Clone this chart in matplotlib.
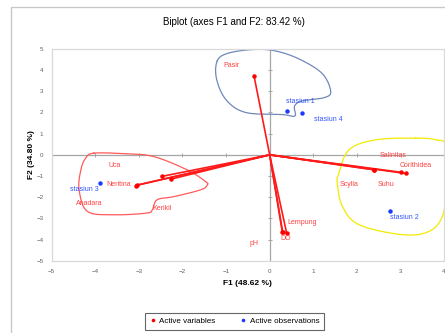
import matplotlib
matplotlib.use("Agg")
import matplotlib.pyplot as plt
from matplotlib.patches import Rectangle
from matplotlib.lines import Line2D
import numpy as np

plt.rcParams['font.family'] = ['Liberation Sans', 'DejaVu Sans']

# active variables (red)
var_names = ["Pasir", "Salinitas", "Scylla", "Suhu", "Corithidea",
             "Uca", "Neritina", "Kerikil", "Anadara", "Lempung", "DO", "pH"]
var_x = [-0.36, 2.40, 2.40, 3.00, 3.12, -2.48, -3.07, -2.27, -3.05, 0.39, 0.29, 0.30]
var_y = [3.74, -0.70, -0.71, -0.82, -0.88, -1.02, -1.45, -1.15, -1.43, -3.70, -3.65, -3.66]
var_lab_x = [-0.87, 2.84, 1.83, 2.67, 3.35, -3.55, -3.46, -2.46, -4.13, 0.75, 0.37, -0.36]
var_lab_y = [4.20, -0.03, -1.41, -1.41, -0.50, -0.50, -1.38, -2.51, -2.31, -3.19, -3.96, -4.17]

# active observations (blue)
obs_names = ["stasiun 1", "stasiun 2", "stasiun 3", "stasiun 4"]
obs_x = [0.39, 2.76, -3.88, 0.75]
obs_y = [2.08, -2.63, -1.31, 1.97]
obs_lab_x = [0.70, 3.08, -4.26, 1.35]
obs_lab_y = [2.52, -2.96, -1.62, 1.65]

# hand drawn groupings
blue_x = [-1.20, -0.95, -0.40, 0.10, 0.65, 1.20, 1.40, 1.25, 0.75, 0.57, 0.58, 0.30, -0.55, -1.00, -1.22]
blue_y = [4.45, 4.80, 4.97, 4.92, 4.55, 3.85, 3.00, 2.70, 2.55, 2.30, 1.84, 1.90, 2.00, 2.60, 3.60]
red_x = [-4.03, -3.30, -2.66, -1.89, -1.47, -1.43, -1.58, -2.19, -2.58, -2.69, -2.82, -3.57, -4.18, -4.37, -4.33, -4.22]
red_y = [0.08, 0.05, -0.08, -0.71, -1.26, -1.42, -1.65, -1.97, -2.12, -2.59, -2.75, -2.83, -2.67, -1.65, -0.71, -0.16]
yel_x = [3.35, 2.43, 1.82, 1.59, 1.55, 1.67, 2.05, 3.04, 3.65, 3.96, 4.04, 4.04, 3.81]
yel_y = [0.79, 0.71, 0.24, -0.86, -1.34, -2.44, -3.30, -3.77, -3.62, -2.91, -1.65, 0.39, 0.71]


def smooth_closed(xs, ys, n=20):
    # periodic catmull-rom
    p = np.column_stack([xs, ys])
    k = len(p)
    out = []
    for i in range(k):
        p0, p1, p2, p3 = p[i - 1], p[i], p[(i + 1) % k], p[(i + 2) % k]
        for t in np.linspace(0, 1, n, endpoint=False):
            t2, t3 = t * t, t * t * t
            out.append(0.5 * (2 * p1 + (-p0 + p2) * t + (2 * p0 - 5 * p1 + 4 * p2 - p3) * t2
                              + (-p0 + 3 * p1 - 3 * p2 + p3) * t3))
    out.append(out[0])
    out = np.array(out)
    return out[:, 0], out[:, 1]


fig = plt.figure(figsize=(4.45, 3.33), dpi=100)
ax = fig.add_axes([0.116, 0.217, 0.882, 0.636])

# outer frame
fig.patches.append(Rectangle((11 / 445, -0.1), 1.2, 1.1 - 7 / 333, transform=fig.transFigure,
                             fill=False, edgecolor='#c8c8c8', linewidth=1.0))

ax.set_xlim(-5, 4)
ax.set_ylim(-5, 5)
ax.set_xticks(np.arange(-5, 5, 1))
ax.set_yticks(np.arange(-5, 6, 1))
ax.tick_params(length=0, labelsize=4.5, labelcolor='#606060', pad=6)
for s in ax.spines.values():
    s.set_color('#d9d9d9')
    s.set_linewidth(0.9)

ax.axhline(0, color='#a6a6a6', lw=0.9, zorder=1)
ax.axvline(0, color='#a6a6a6', lw=0.9, zorder=1)
ax.plot(np.zeros(len(ax.get_yticks())), ax.get_yticks(), ls='none', marker='_',
        ms=3, mew=0.7, color='#a6a6a6', zorder=1)
ax.plot(ax.get_xticks(), np.zeros(len(ax.get_xticks())), ls='none', marker='|',
        ms=3, mew=0.7, color='#a6a6a6', zorder=1)

# vectors
for i in range(len(var_names)):
    ax.plot([0, var_x[i]], [0, var_y[i]], color='#ff1a1a', lw=1.2, zorder=3)
ax.plot(var_x, var_y, ls='none', marker='o', ms=2.2, color='#ff0000', zorder=4)
for i in range(len(var_names)):
    ax.text(var_lab_x[i], var_lab_y[i], var_names[i], color='#ff4040', fontsize=5,
            ha='center', va='center', zorder=5)

ax.plot(obs_x, obs_y, ls='none', marker='o', ms=2.2, color='#1a3cff', zorder=4)
for i in range(len(obs_names)):
    ax.text(obs_lab_x[i], obs_lab_y[i], obs_names[i], color='#3355ff', fontsize=5,
            ha='center', va='center', zorder=5)

bx, by = smooth_closed(blue_x, blue_y)
ax.plot(bx, by, color='#7088b8', lw=0.9, zorder=2)
rx, ry = smooth_closed(red_x, red_y)
ax.plot(rx, ry, color='#ff5a5a', lw=0.9, zorder=2)
yx, yy = smooth_closed(yel_x, yel_y)
ax.plot(yx, yy, color='#f2ea00', lw=0.9, zorder=2)

fig.text(0.526, 0.934, "Biplot (axes F1 and F2: 83.42 %)", fontsize=7, ha='center', va='center')
fig.text(0.557, 0.150, "F1 (48.62 %)", fontsize=6, fontweight='bold', ha='center', va='center')
fig.text(0.071, 0.535, "F2 (34.80 %)", fontsize=6, fontweight='bold', ha='center', va='center',
         rotation=90)

handles = [Line2D([], [], ls='none', marker='o', ms=1.6, color='#ff0000', label='Active variables'),
           Line2D([], [], ls='none', marker='o', ms=1.6, color='#1a3cff', label='Active observations')]
leg = fig.legend(handles=handles, loc='center', bbox_to_anchor=(0.527, 0.035), ncol=2,
                 fontsize=5.8, frameon=True, fancybox=False, handlelength=0.8, handletextpad=0.4,
                 columnspacing=3.0, borderpad=0.6, borderaxespad=0)
leg.get_frame().set_edgecolor('#404040')
leg.get_frame().set_linewidth(0.8)

fig.savefig("out.png", dpi=100)
